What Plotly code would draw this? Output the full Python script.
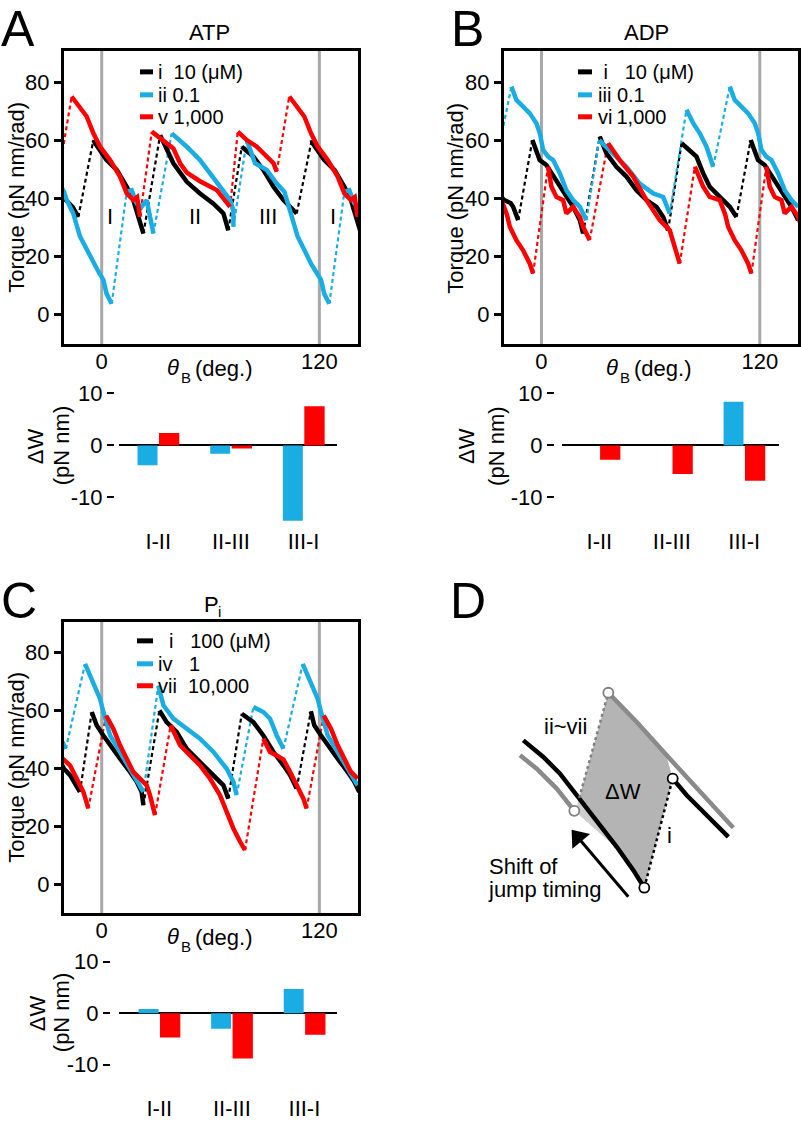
import plotly.graph_objects as go

# ======================= DATA =======================
# theta_B in degrees, torque in pN nm/rad; None separates the solid (dwell) segments.
# Panel A  (ATP)
atp_i_deg = [-25.3, -19.8, -16.1, -12.9, None,
             -4.6, -3.7, 2.7, 8.3, 13.8, 17.4, 20.2, 23.0, None,
             32.2, 35.8, 39.5, 46.9, 54.2, 61.6, 67.1, 69.8, None,
             77.2, 83.6, 89.1, 94.7, 100.2, 103.9, 107.5, None,
             115.8, 116.3, 122.7, 128.3, 133.8, 137.4, 140.2, 143.0]
atp_i_torque = [44.1, 39.5, 37.2, 33.7, None,
                60.2, 59.1, 53.3, 49.9, 44.1, 39.5, 33.7, 28.0, None,
                61.9, 56.8, 52.2, 45.8, 41.8, 38.3, 34.9, 29.1, None,
                57.9, 54.5, 49.9, 44.1, 39.5, 37.2, 34.9, None,
                60.2, 59.1, 53.3, 49.9, 44.1, 39.5, 33.7, 28.0]
atp_ii_deg = [-23.5, -20.8, -19.3, -15.7, -12.0, -8.0, -4.6, -1.5, 0.9, 2.7, 5.5, None,
              13.8, 16.5, 19.3, 22.0, 24.8, 26.6, 28.5, None,
              38.6, 46.9, 54.2, 59.7, 65.2, 70.8, 72.6, 72.6, None,
              80.0, 84.5, 91.0, 96.5, 100.7, 104.3, 108.0, 112.0, 115.4, 118.5, 120.9, 122.7, 125.5, None,
              133.8, 136.5, 139.3, 142.0]
atp_ii_torque = [45.2, 42.4, 39.5, 34.9, 27.0, 22.0, 17.6, 14.5, 12.0, 7.2, 3.8, None,
                 42.4, 42.9, 38.3, 37.2, 39.5, 33.7, 28.0, None,
                 62.5, 57.9, 53.3, 48.7, 44.1, 39.5, 36.0, 30.3, None,
                 60.2, 52.2, 49.9, 45.2, 42.4, 34.9, 27.0, 22.0, 17.6, 14.5, 12.0, 7.2, 3.8, None,
                 42.4, 42.9, 38.3, 37.2]
atp_v_deg = [-30.0, -23.5, None,
             -16.6, -12.0, -8.3, -4.6, -0.9, 4.6, 10.1, 13.8, 17.4, 19.5, 21.1, None,
             27.6, 35.8, 39.5, 43.2, 46.9, 54.2, 63.4, 70.8, None,
             75.0, 80.0, 85.5, 91.0, 94.7, 96.5, None,
             103.4, 108.0, 111.7, 115.4, 119.1, 124.6, 130.1, 133.8, 137.4, 139.5, 141.1]
atp_v_torque = [54.5, 49.3, None,
                75.2, 71.7, 68.3, 62.5, 57.9, 53.3, 47.6, 41.8, 39.5, 40.5, 33.7, None,
                63.1, 59.1, 57.3, 52.2, 49.0, 46.0, 43.0, 37.2, None,
                63.1, 60.2, 57.9, 54.5, 52.2, 49.3, None,
                75.2, 71.7, 68.3, 62.5, 57.9, 53.3, 47.6, 41.8, 39.5, 40.5, 33.7]

# Panel B  (ADP)
adp_i_deg = [-22.0, -20.5, -17.0, -15.6, -12.8, None,
             -5.0, -1.0, 2.7, 8.2, 13.7, 17.4, 21.1, 22.9, None,
             32.0, 35.7, 41.2, 46.7, 52.2, 57.7, 63.2, 66.9, 69.6, None,
             77.0, 81.5, 85.2, 88.9, 92.5, 98.0, 103.5, 107.2, None,
             115.0, 119.0, 122.7, 128.2, 133.7, 137.4, 141.1]
adp_i_torque = [40.6, 39.5, 38.5, 37.2, 32.6, None,
                60.2, 53.3, 51.6, 46.4, 40.6, 37.2, 32.6, 28.0, None,
                61.4, 55.6, 51.0, 47.6, 42.9, 39.5, 37.2, 33.7, 29.1, None,
                59.1, 56.8, 54.5, 48.7, 44.1, 40.6, 37.2, 33.7, None,
                60.2, 53.3, 51.6, 46.4, 40.6, 37.2, 32.6]
adp_iii_deg = [-30.0, -25.6, None,
               -16.5, -13.8, -10.1, -6.4, -2.8, -0.9, 0.9, 3.6, 6.4, 10.1, 13.7, 17.4, 21.1, 24.7, None,
               31.7, 39.4, 46.7, 54.0, 61.4, 66.9, 70.5, None,
               79.7, 83.4, 87.0, 90.7, 94.4, None,
               103.5, 106.2, 109.9, 113.6, 117.2, 119.1, 120.9, 123.6, 126.4, 130.1, 133.7, 137.4, 141.1]
adp_iii_torque = [57.9, 51.0, None,
                  78.6, 74.0, 71.7, 69.4, 66.0, 62.5, 56.8, 54.5, 53.3, 48.7, 42.9, 39.5, 37.2, 32.6, None,
                  60.2, 55.6, 51.0, 45.2, 41.8, 40.6, 34.9, None,
                  70.6, 66.0, 62.5, 57.9, 51.0, None,
                  78.6, 74.0, 71.7, 69.4, 66.0, 62.5, 56.8, 54.5, 53.3, 48.7, 42.9, 39.5, 37.2]
adp_vi_deg = [-35.7, -31.1, -27.5, -22.0, -19.0, -17.4, -13.8, -10.1, -6.4, -4.6, None,
              3.6, 5.5, 8.2, 11.9, 13.7, 17.4, 21.1, 22.9, 26.5, None,
              36.6, 43.0, 50.4, 57.7, 65.0, 70.5, 76.0, None,
              84.3, 88.9, 92.5, 98.0, 101.0, 102.6, 106.2, 109.9, 113.6, 115.4, None,
              123.6, 125.5, 128.2, 131.9, 133.7, 137.4, 141.1, 143.0]
adp_vi_torque = [51.0, 44.1, 40.6, 39.5, 34.5, 30.3, 25.7, 22.2, 17.6, 14.2, None,
                 51.0, 44.1, 40.6, 39.5, 34.9, 37.2, 33.7, 30.3, 25.7, None,
                 59.1, 53.3, 47.6, 39.5, 32.6, 29.1, 17.6, None,
                 51.0, 44.1, 40.6, 39.5, 34.5, 30.3, 25.7, 22.2, 17.6, 14.2, None,
                 51.0, 44.1, 40.6, 39.5, 34.9, 37.2, 33.7, 30.3]

# Panel C  (Pi)
pi_i_deg = [-24.0, -20.8, -17.5, -13.8, -12.0, None,
            -5.5, -2.8, 0.9, 4.6, 10.1, 15.6, 19.3, 22.0, 23.0, None,
            31.8, 35.8, 41.3, 46.9, 54.2, 61.6, 67.1, 69.8, None,
            77.2, 83.6, 89.1, 94.7, 100.2, 103.9, 107.5, None,
            115.3, 117.2, 120.9, 124.6, 130.1, 135.6, 139.3, 142.0]
pi_i_torque = [43.5, 39.8, 37.6, 34.1, 31.8, None,
               59.4, 54.8, 51.3, 47.9, 43.3, 38.7, 35.3, 31.8, 27.2, None,
               59.9, 55.9, 52.5, 46.7, 42.1, 37.6, 34.1, 29.5, None,
               58.8, 55.9, 51.3, 45.6, 41.0, 37.6, 33.0, None,
               59.6, 54.8, 51.3, 47.9, 43.3, 38.7, 35.3, 31.8]
pi_iv_deg = [-36.4, -30.9, -27.2, -23.5, -19.8, None,
             -9.2, -6.5, -2.8, -0.9, 0.9, 4.6, 10.1, 15.6, 21.1, 23.0, None,
             31.2, 34.0, 39.5, 46.9, 54.2, 61.6, 68.9, 72.6, 74.4, None,
             83.6, 89.1, 92.8, 96.5, 100.2, None,
             110.8, 113.5, 117.2, 119.1, 120.9, 124.6, 130.1, 135.6, 141.1]
pi_iv_torque = [61.1, 59.4, 57.1, 51.3, 46.7, None,
                76.0, 72.0, 67.4, 63.9, 59.4, 51.3, 45.6, 39.8, 34.1, 31.8, None,
                68.5, 61.7, 57.1, 53.6, 50.2, 45.6, 39.8, 35.3, 30.7, None,
                61.1, 59.4, 57.1, 51.3, 46.7, None,
                76.0, 72.0, 67.4, 63.9, 59.4, 51.3, 45.6, 39.8, 34.1]
pi_vii_deg = [-30.9, -27.2, -23.5, -20.8, -17.5, -13.8, -10.1, -7.4, None,
              2.4, 6.4, 10.1, 13.8, 17.4, 21.1, 24.8, 26.6, 29.4, None,
              38.0, 43.2, 48.7, 54.2, 59.7, 65.2, 68.9, 72.6, 76.3, 79.0, None,
              89.1, 92.8, 96.5, 100.2, 103.9, 107.5, 111.2, 113.0, None,
              122.4, 126.4, 130.1, 133.8, 137.4, 141.1]
pi_vii_torque = [50.2, 45.6, 44.4, 43.0, 41.0, 36.4, 31.8, 26.1, None,
                 58.2, 53.6, 47.9, 43.3, 38.7, 36.4, 34.1, 30.7, 23.8, None,
                 54.8, 47.9, 44.4, 41.0, 36.4, 30.7, 24.9, 19.2, 14.6, 11.7, None,
                 50.2, 45.6, 44.4, 43.0, 38.7, 34.1, 29.5, 26.1, None,
                 58.2, 53.6, 47.9, 43.3, 38.7, 36.4]

# Delta W bars (pN nm)
dw_categories = ["I-II", "II-III", "III-I"]
atp_dw_ii = [-3.8, -1.6, -14.5]
atp_dw_v = [2.4, -0.6, 7.5]
adp_dw_iii = [0.0, 0.0, 8.4]
adp_dw_vi = [-2.75, -5.5, -6.8]
pi_dw_iv = [0.8, -3.0, 4.7]
pi_dw_vii = [-4.7, -8.8, -4.2]

# tick labels
torque_ticks = [0, 20, 40, 60, 80]
theta_ticklabels = ["0", "120"]

# ======================= STYLE / LAYOUT =======================
W, H = 801, 1121
FONT = "Liberation Sans, Arial, Helvetica, sans-serif"
BLACK, BLUE, RED, GRAY = "#000000", "#1aade4", "#ff0000", "#a8a8a8"
FS = 22
LFS = 20
SUB = 15
NB = "\u00a0"

fig = go.Figure()
lay = {}
ann = []
shapes = []


def xk(n): return "xaxis" if n == 1 else f"xaxis{n}"
def yk(n): return "yaxis" if n == 1 else f"yaxis{n}"
def xr(n): return "x" if n == 1 else f"x{n}"
def yr(n): return "y" if n == 1 else f"y{n}"


def segments(xs, ys):
    out, cur = [], []
    for x, y in zip(xs, ys):
        if x is None:
            if cur:
                out.append(cur)
            cur = []
        else:
            cur.append((x, y))
    if cur:
        out.append(cur)
    return out


def add_dashed(xs, ys, color, xa, ya):
    segs = segments(xs, ys)
    dx, dy = [], []
    for a, b in zip(segs[:-1], segs[1:]):
        dx += [a[-1][0], b[0][0], None]
        dy += [a[-1][1], b[0][1], None]
    fig.add_trace(go.Scatter(x=dx, y=dy, mode="lines", xaxis=xa, yaxis=ya,
                             line=dict(color=color, width=2.2, dash="4px,3px"),
                             hoverinfo="skip", showlegend=False))


def add_solid(xs, ys, color, xa, ya, name):
    fig.add_trace(go.Scatter(x=xs, y=ys, mode="lines", xaxis=xa, yaxis=ya, name=name,
                             line=dict(color=color, width=4.5), connectgaps=False,
                             showlegend=False))


def line_panel(mx, tx, bx, my, ry, x0, x1, y0, y1, xrange, yrange):
    xd = [x0 / W, x1 / W]
    yd = [1 - y1 / H, 1 - y0 / H]
    lay[xk(mx)] = dict(domain=xd, range=xrange, anchor=yr(my), tickvals=[0, 120],
                       ticktext=theta_ticklabels, ticks="", showline=True, linewidth=3,
                       linecolor=BLACK, mirror=True, showgrid=False, zeroline=False,
                       ticklabelstandoff=-5, tickfont=dict(size=FS))
    common = dict(range=xrange, anchor=yr(my), overlaying=xr(mx), showticklabels=False,
                  showline=False, showgrid=False, zeroline=False, tickcolor=BLACK, tickwidth=3)
    lay[xk(tx)] = dict(side="top", tickvals=[0, 120], ticks="inside", ticklen=12, **common)
    lay[xk(bx)] = dict(side="bottom", tickvals=[40, 80], ticks="inside", ticklen=9, **common)
    lay[yk(my)] = dict(domain=yd, range=yrange, anchor=xr(mx), tickvals=torque_ticks,
                       ticks="outside", ticklen=7, tickwidth=3, tickcolor=BLACK,
                       showline=True, linewidth=3, linecolor=BLACK, mirror=True,
                       showgrid=False, zeroline=False, tickfont=dict(size=FS))
    lay[yk(ry)] = dict(range=yrange, anchor=xr(mx), overlaying=yr(my), side="right",
                       tickvals=torque_ticks, ticks="inside", ticklen=12, tickwidth=3,
                       tickcolor=BLACK, showticklabels=False, showline=False,
                       showgrid=False, zeroline=False)
    for v in (0, 120):
        shapes.append(dict(type="line", xref=xr(mx), yref=f"{yr(my)} domain", x0=v, x1=v,
                           y0=0, y1=1, line=dict(color=GRAY, width=3), layer="below"))


def bar_panel(bxn, byn, x0, x1, ypos, y0, y1, xrange):
    lay[xk(bxn)] = dict(domain=[x0 / W, x1 / W], range=xrange, anchor=yr(byn),
                        type="category", showline=False, ticks="", showgrid=False,
                        zeroline=False, tickfont=dict(size=FS))
    lay[yk(byn)] = dict(domain=[1 - y1 / H, 1 - y0 / H], range=[-15.5, 12.5], anchor="free",
                        position=ypos / W, tickvals=[-10, 0, 10], ticktext=["-10", "0", "10"],
                        ticks="outside", ticklen=7, tickwidth=1.5, tickcolor=BLACK,
                        showline=False, showgrid=False, zeroline=True, zerolinecolor=BLACK,
                        zerolinewidth=1.5, tickfont=dict(size=FS))


def add_bars(vals_blue, vals_red, bxn, byn):
    fig.add_trace(go.Bar(x=dw_categories, y=vals_blue, width=0.275, offset=-0.285,
                         marker=dict(color=BLUE, line=dict(width=0)),
                         xaxis=xr(bxn), yaxis=yr(byn), showlegend=False))
    fig.add_trace(go.Bar(x=dw_categories, y=vals_red, width=0.28, offset=0.01,
                         marker=dict(color=RED, line=dict(width=0)),
                         xaxis=xr(bxn), yaxis=yr(byn), showlegend=False))


def text(x, y, s, size=FS, xanchor="center", angle=0, xref="paper", yref="paper",
         yanchor="middle", pad=1):
    if xref == "paper":
        x = x / W
    if yref == "paper":
        y = 1 - y / H
    ann.append(dict(x=x, y=y, xref=xref, yref=yref, text=s, showarrow=False,
                    xanchor=xanchor, yanchor=yanchor, textangle=angle, borderpad=pad,
                    font=dict(size=size, color=BLACK, family=FONT)))


def legend(entries, tx, swatch_x0, swatch_x1):
    # entries: (label text, y, colour)
    for lab, y, col in entries:
        shapes.append(dict(type="line", xref="paper", yref="paper", x0=swatch_x0 / W,
                           x1=swatch_x1 / W, y0=1 - y / H, y1=1 - y / H,
                           line=dict(color=col, width=5)))
        text(tx, y, lab, size=LFS, xanchor="left", pad=0)


def theta_label(x, y):
    # "θ_B (deg.)" : italic theta, subscript B, unit
    text(x, y - 1, "<i>θ</i>", xanchor="left", pad=0)
    text(x + 14, y + 9, "B", size=SUB, xanchor="left", pad=0)
    text(x + 28, y, "(deg.)", xanchor="left", pad=0)


XR = [-20.8, 141.3]
YR = [-10.2, 90.9]

# ---------------- Panel A ----------------
line_panel(1, 2, 3, 1, 2, 64, 358, 51, 345, XR, YR)
# ---------------- Panel B ----------------
line_panel(4, 5, 6, 3, 4, 504, 798, 51, 345, [-20.6, 141.0], YR)
# ---------------- Panel C ----------------
line_panel(7, 8, 9, 5, 6, 64, 358, 622.7, 915, XR, [-10.1, 90.6])

series = [
    ("x", "y", [(atp_i_deg, atp_i_torque, BLACK, "i 10 μM"),
                (atp_ii_deg, atp_ii_torque, BLUE, "ii 0.1 μM"),
                (atp_v_deg, atp_v_torque, RED, "v 1,000 μM")]),
    ("x4", "y3", [(adp_i_deg, adp_i_torque, BLACK, "i 10 μM"),
                  (adp_iii_deg, adp_iii_torque, BLUE, "iii 0.1 μM"),
                  (adp_vi_deg, adp_vi_torque, RED, "vi 1,000 μM")]),
    ("x7", "y5", [(pi_i_deg, pi_i_torque, BLACK, "i 100 μM"),
                  (pi_iv_deg, pi_iv_torque, BLUE, "iv 1 μM"),
                  (pi_vii_deg, pi_vii_torque, RED, "vii 10,000 μM")]),
]
for xa, ya, lst in series:
    for xs, ys, col, nm in lst:
        add_dashed(xs, ys, col, xa, ya)
    for xs, ys, col, nm in lst:
        add_solid(xs, ys, col, xa, ya, nm)

# ---------------- bar panels ----------------
bar_panel(10, 7, 119, 337, 114, 381, 527, [-0.54, 2.46])
bar_panel(11, 8, 561.7, 779, 554, 381, 527, [-0.52, 2.48])
bar_panel(12, 9, 119, 336.7, 110, 950.4, 1095.1, [-0.555, 2.445])
add_bars(atp_dw_ii, atp_dw_v, 10, 7)
add_bars(adp_dw_iii, adp_dw_vi, 11, 8)
add_bars(pi_dw_iv, pi_dw_vii, 12, 9)

# ---------------- Panel D schematic (drawing geometry in pixel units) ----------------
lay["xaxis13"] = dict(domain=[480 / W, 1.0], range=[480, 801], visible=False, anchor="y10",
                      fixedrange=True)
lay["yaxis10"] = dict(domain=[1 - 930 / H, 1 - 600 / H], range=[930, 600], visible=False,
                      anchor="x13", fixedrange=True)
d_area_x = [608.3, 640.0, 666.7, 672.7, 644.3, 620.0, 600.0, 579.3]
d_area_y = [694.0, 728.3, 758.3, 780.0, 889.3, 853.3, 826.7, 799.3]
d_shift_x = [574.3, 580.0, 615.0]
d_shift_y = [812.3, 800.0, 848.3]
d_gray_up_x = [608.3, 636.7, 666.7, 696.7, 733.3]
d_gray_up_y = [694.0, 723.3, 756.7, 790.0, 829.3]
d_black_up_x = [672.7, 686.7, 706.7, 728.3]
d_black_up_y = [780.0, 796.7, 816.7, 838.3]
d_black_lo_x = [523.3, 543.3, 560.0, 578.3, 596.7, 616.7, 633.3, 644.3]
d_black_lo_y = [741.7, 758.3, 775.0, 798.3, 821.7, 848.3, 871.7, 889.3]
d_gray_lo_x = [520.0, 536.7, 556.7, 574.3]
d_gray_lo_y = [756.7, 770.0, 790.0, 812.3]
d_arrow_x = [628.3, 578.0]
d_arrow_y = [898.3, 839.0]


def dtrace(x, y, **kw):
    fig.add_trace(go.Scatter(x=x, y=y, xaxis="x13", yaxis="y10", showlegend=False,
                             hoverinfo="skip", **kw))


dtrace(d_area_x, d_area_y, mode="lines", fill="toself", fillcolor="#b4b4b4",
       line=dict(width=0, color="#b4b4b4"))
dtrace(d_shift_x, d_shift_y, mode="lines", fill="toself", fillcolor="#cdcdcd",
       line=dict(width=0, color="#cdcdcd"))
dtrace(d_gray_up_x, d_gray_up_y, mode="lines", line=dict(color="#8a8a8a", width=4.5))
dtrace(d_gray_lo_x, d_gray_lo_y, mode="lines", line=dict(color="#8a8a8a", width=4.5))
dtrace(d_black_up_x, d_black_up_y, mode="lines", line=dict(color=BLACK, width=4.5))
dtrace(d_black_lo_x, d_black_lo_y, mode="lines", line=dict(color=BLACK, width=4.5))
dtrace([579.3, 608.3], [799.3, 694.0], mode="lines", line=dict(color="#808080", width=2.5, dash="dot"))
dtrace([644.3, 672.7], [889.3, 780.0], mode="lines", line=dict(color=BLACK, width=2.5, dash="dot"))
dtrace([608.3, 574.3], [694.0, 812.3], mode="markers",
       marker=dict(size=10, color="white", line=dict(color="#808080", width=1.8)))
dtrace([672.7, 644.3], [780.0, 889.3], mode="markers",
       marker=dict(size=10, color="white", line=dict(color=BLACK, width=1.8)))
# arrow: shaft + triangular head
dtrace(d_arrow_x, d_arrow_y, mode="lines", line=dict(color=BLACK, width=3))
dtrace([d_arrow_x[1]], [d_arrow_y[1]], mode="markers",
       marker=dict(symbol="triangle-up", size=20, angle=-40, color=BLACK, line=dict(width=0)))
text(565, 728, "ii~vii")
text(623, 793, "ΔW")
text(669, 837, "i")
text(487, 868, "Shift of", xanchor="left")
text(486, 891, "jump timing", xanchor="left")

# ---------------- texts ----------------
text(18, 0, "A", size=50, yanchor="top", pad=0)
text(467, 0, "B", size=50, yanchor="top", pad=0)
text(19, 602, "C", size=50)
text(468, 602, "D", size=50)
text(210, 33, "ATP")
text(646, 33, "ADP")
text(203, 606, "P", xanchor="left", pad=0)
text(217, 613, "i", size=SUB, xanchor="left", pad=0)
theta_label(166, 369)
theta_label(605, 369)
theta_label(166, 939)
for cx, cy in ((17, 198), (456, 198), (17, 769)):
    text(cx, cy, "Torque (pN nm/rad)", angle=-90)
for ax1, ax2, cy in ((35, 61, 447), (466.7, 496.7, 447), (37, 61, 1015)):
    text(ax1, cy, "ΔW", angle=-90)
    text(ax2, cy, "(pN nm)", angle=-90)
for deg, lab in ((4.6, "I"), (51.5, "II"), (91.9, "III"), (127.4, "I")):
    ann.append(dict(x=deg, y=33.7, xref="x", yref="y", text=lab, showarrow=False,
                    font=dict(size=FS, color=BLACK, family=FONT)))

legend([("i" + NB * 2 + "10 (μM)", 72, BLACK),
        ("ii" + NB + "0.1", 95, BLUE),
        ("v" + NB + "1,000", 117, RED)], 157, 140, 153)
legend([(NB + "i" + NB * 3 + "10 (μM)", 72, BLACK),
        ("iii" + NB + "0.1", 95, BLUE),
        ("vi\u2009" + "1,000", 117, RED)], 597, 578, 592)
legend([(NB * 2 + "i" + NB * 3 + "100 (μM)", 642, BLACK),
        ("iv" + NB * 3 + "1", 665, BLUE),
        ("vii" + NB * 2 + "10,000", 687, RED)], 157, 137, 153)

fig.update_layout(width=W, height=H, margin=dict(l=0, r=0, t=0, b=0),
                  paper_bgcolor="white", plot_bgcolor="white", showlegend=False,
                  font=dict(family=FONT, size=FS, color=BLACK),
                  annotations=ann, shapes=shapes, **lay)
fig.write_html("out.html", config={"displayModeBar": False},
               post_script="document.body.style.margin='0px';")
